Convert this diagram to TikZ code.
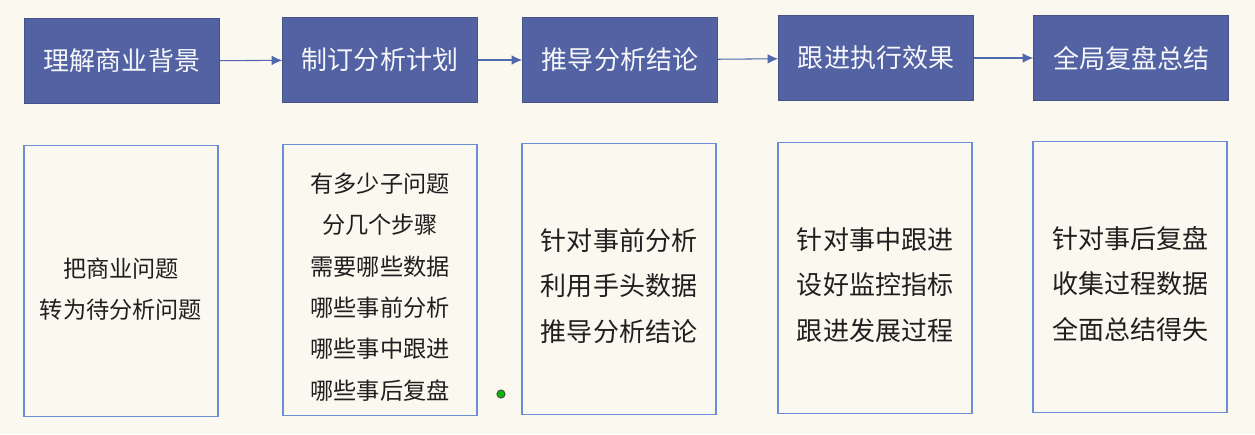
\documentclass[tikz,border=0pt]{standalone}
\usepackage{fontspec}
\setmainfont{Noto Sans CJK SC}
\usepackage{tikz}
\usetikzlibrary{arrows.meta}
\usepackage{xcolor}
\definecolor{headblue}{HTML}{5262A3}
\definecolor{edgeblue}{HTML}{6E8DD6}
\definecolor{linkblue}{HTML}{4F68AE}
\definecolor{paper}{HTML}{FBF8EF}

\begin{document}
\begin{tikzpicture}[x=0.02cm, y=-0.02cm,
    head/.style={fill=headblue, draw=headblue!85!black, text=white!95!headblue, minimum width=3.9cm, minimum height=1.7cm, inner sep=0pt, font=\fontsize{14.8pt}{17pt}\selectfont},
    body/.style={draw=edgeblue, line width=0.9pt, text=black!88, minimum width=3.88cm, minimum height=5.42cm, inner sep=0pt, align=center, font=\fontsize{13.2pt}{23.6pt}\selectfont},
    bigtext/.style={text height=72.5pt, font=\fontsize{14.8pt}{26pt}\selectfont},
    link/.style={->, linkblue, >={Latex[length=6pt,width=5.5pt]}, line width=0.6pt}]
    % fond
    \fill[paper] (0,0) rectangle (1255,434);
    % etapes
    \node[head] (h1) at (122,61) {理解商业背景};
    \node[head] (h2) at (380,60) {制订分析计划};
    \node[head] (h3) at (620,60) {推导分析结论};
    \node[head] (h4) at (876,58) {跟进执行效果};
    \node[head] (h5) at (1131,58) {全局复盘总结};
    \draw[link] (h1) -- (h2);
    \draw[link] (h2) -- (h3);
    \draw[link] (h3) -- (h4);
    \draw[link] (h4) -- (h5);
    % contenus
    \node[body, text height=44pt] (b1) at (121,281) {把商业问题\\转为待分析问题};
    \node[body, text height=137pt] (b2) at (380,280) {有多少子问题\\分几个步骤\\需要哪些数据\\哪些事前分析\\哪些事中跟进\\哪些事后复盘};
    \node[body, bigtext] (b3) at (619,279) {针对事前分析\\利用手头数据\\推导分析结论};
    \node[body, bigtext] (b4) at (875,278) {针对事中跟进\\设好监控指标\\跟进发展过程};
    \node[body, bigtext] (b5) at (1130,277) {针对事后复盘\\收集过程数据\\全面总结得失};
    \filldraw[fill=green!75!black, draw=black!70, line width=0.6pt] (501,394) circle (0.08cm);
\end{tikzpicture}
\end{document}
